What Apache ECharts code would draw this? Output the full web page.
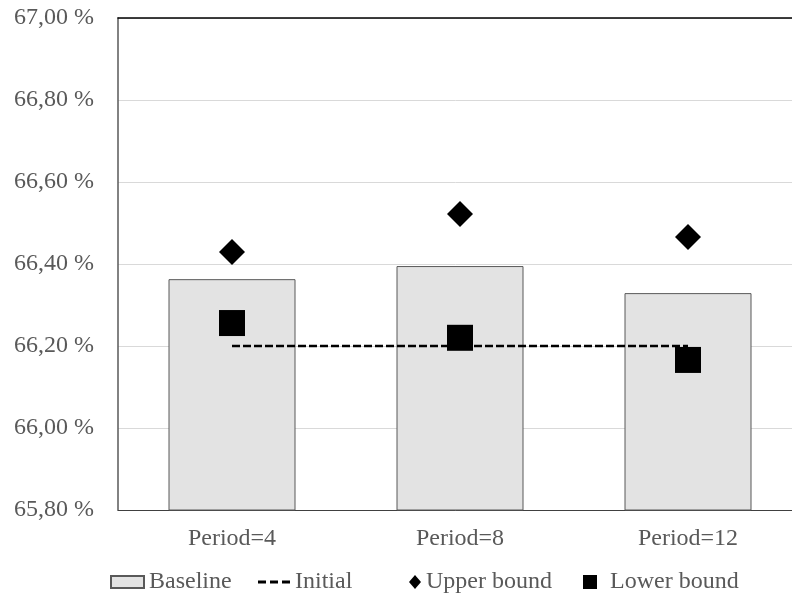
<!DOCTYPE html>
<html>
<head>
<meta charset="utf-8">
<script src="https://cdn.jsdelivr.net/npm/echarts@6/dist/echarts.min.js"></script>
<style>
  html, body { margin: 0; padding: 0; background: #ffffff; }
  #chart { width: 792px; height: 593px; }
</style>
</head>
<body>
<div id="chart"></div>
<script>
// Categories and series values (percent)
const categories = ['Period=4', 'Period=8', 'Period=12'];
const baseline = [66.363, 66.395, 66.329];
const initial = [66.20, 66.20, 66.20];
const upperBound = [66.429, 66.522, 66.466];
const lowerBound = [66.256, 66.220, 66.166];

// Value axis range and step
const yMin = 65.8;
const yMax = 67.0;
const yStep = 0.2;

const FONT = '"Liberation Serif", "Times New Roman", serif';
const TEXT_COLOR = '#595959';

const chart = echarts.init(document.getElementById('chart'), null, { renderer: 'canvas' });

const legendText = { fontFamily: FONT, fontSize: 24, color: TEXT_COLOR };
const LEGEND_TOP = 565;

// three short dashes for the "Initial" legend key
const dashIcon = 'path://M0,0h8v3h-8z M12,0h8v3h-8z M24,0h8v3h-8z';

chart.setOption({
  animation: false,
  backgroundColor: '#ffffff',
  grid: {
    left: 118,
    top: 18,
    width: 684,
    bottom: 83,
    outerBoundsMode: 'none',
    containLabel: false
  },
  legend: [
    { data: ['Baseline'], left: 105, top: LEGEND_TOP, icon: 'rect', itemWidth: 33, itemHeight: 12, textStyle: legendText },
    { data: [{ name: 'Initial', icon: dashIcon }], left: 253, top: LEGEND_TOP, itemWidth: 32, itemHeight: 3,
      itemStyle: { color: '#000000' }, lineStyle: { width: 0 }, textStyle: legendText },
    { data: ['Upper bound'], left: 404, top: LEGEND_TOP, icon: 'diamond', itemWidth: 12, itemHeight: 14, textStyle: legendText },
    { data: ['Lower bound'], left: 578, top: LEGEND_TOP, icon: 'rect', itemWidth: 14, itemHeight: 14,
      textStyle: Object.assign({ padding: [0, 0, 0, 8] }, legendText) }
  ],
  xAxis: [
    {
      type: 'category',
      data: categories,
      position: 'bottom',
      axisLine: { show: true, lineStyle: { color: '#404040', width: 1 } },
      axisTick: { show: false },
      axisLabel: { fontFamily: FONT, fontSize: 24, color: TEXT_COLOR, margin: 17 },
      splitLine: { show: false }
    },
    {
      type: 'category',
      data: categories,
      position: 'top',
      axisLine: { show: true, onZero: false, lineStyle: { color: '#000000', width: 1.5 } },
      axisTick: { show: false },
      axisLabel: { show: false },
      splitLine: { show: false }
    }
  ],
  yAxis: {
    type: 'value',
    min: yMin,
    max: yMax,
    interval: yStep,
    axisLine: { show: true, lineStyle: { color: '#595959', width: 1.5 } },
    axisTick: { show: false },
    axisLabel: {
      fontFamily: FONT,
      fontSize: 24,
      color: TEXT_COLOR,
      margin: 24,
      formatter: v => v.toFixed(2).replace('.', ',') + ' %'
    },
    splitLine: { show: true, lineStyle: { color: '#d9d9d9', width: 1 } }
  },
  series: [
    {
      name: 'Baseline',
      type: 'bar',
      data: baseline,
      barWidth: 127,
      itemStyle: { color: '#e3e3e3', borderColor: '#595959', borderWidth: 1 },
      z: 1
    },
    {
      name: 'Initial',
      type: 'line',
      data: initial,
      symbol: 'none',
      lineStyle: { color: '#000000', width: 2.5, type: [8, 3] },
      itemStyle: { color: '#000000' },
      z: 2
    },
    {
      name: 'Upper bound',
      type: 'scatter',
      data: upperBound,
      symbol: 'diamond',
      symbolSize: 26,
      itemStyle: { color: '#000000', opacity: 1 },
      z: 3
    },
    {
      name: 'Lower bound',
      type: 'scatter',
      data: lowerBound,
      symbol: 'rect',
      symbolSize: 26,
      itemStyle: { color: '#000000', opacity: 1 },
      z: 3
    }
  ]
});
</script>
</body>
</html>
